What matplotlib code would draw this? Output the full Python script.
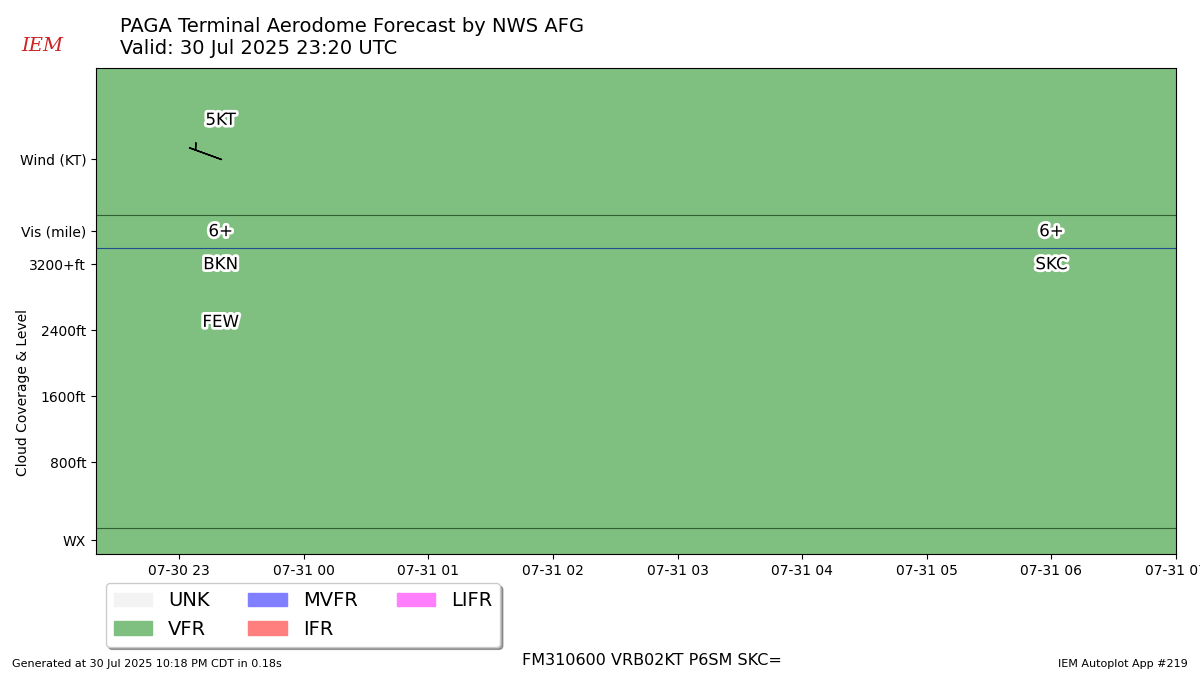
import matplotlib
matplotlib.use('Agg')
import matplotlib.pyplot as plt
import matplotlib.patheffects as pe
from matplotlib.patches import Rectangle
from datetime import datetime
import matplotlib.dates as mdates
import numpy as np

# forecast data
times = [datetime(2025, 7, 30, 23, 20), datetime(2025, 7, 31, 6, 0)]
vis_labels = ["6+", "6+"]
wind_speed = [5]
wind_dir = [290]
cloud_labels = [["BKN", "FEW"], ["SKC"]]
cloud_levels = [[3200, 2500], [3200]]
categories = ["UNK", "VFR", "MVFR", "IFR", "LIFR"]
cat_colors = ["#F3F3F3", "#7FBF7F", "#7F7FFF", "#FF7F7F", "#FF7FFF"]

fig = plt.figure(figsize=(12, 6.75), dpi=100)
ax = fig.add_axes([0.08, 0.179, 0.90, 0.72])

x0 = datetime(2025, 7, 30, 22, 20)
x1 = datetime(2025, 7, 31, 7, 0)
ax.axvspan(x0, x1, color=cat_colors[1], zorder=0)

outline = [pe.withStroke(linewidth=4, foreground='white')]
for t, v in zip(times, vis_labels):
    ax.text(t, 3600, v, ha='center', va='center', fontsize=12, path_effects=outline)
for t, labs, levs in zip(times, cloud_labels, cloud_levels):
    for lab, lev in zip(labs, levs):
        ax.text(t, lev, lab, ha='center', va='center', fontsize=12, path_effects=outline)

d = np.radians(wind_dir[0])
u = -wind_speed[0] * np.sin(d)
v = -wind_speed[0] * np.cos(d)
ax.barbs([mdates.date2num(times[0])], [4470], [u], [v], length=7, zorder=3)
ax.text(times[0], 4950, f"{wind_speed[0]}KT", ha='center', va='center', fontsize=12, path_effects=outline)

for y, c in [(0, '#2f5f2f'), (3400, '#1f4f8f'), (3800, '#2f5f2f')]:
    ax.axhline(y, color=c, lw=0.8)

ax.set_xlim(x0, x1)
ax.set_ylim(-315, 5576)
ax.set_yticks([-145, 800, 1600, 2400, 3200, 3600, 4470])
ax.set_yticklabels(["WX", "800ft", "1600ft", "2400ft", "3200+ft", "Vis (mile)", "Wind (KT)"])
ax.set_ylabel("Cloud Coverage & Level")
ax.yaxis.set_label_coords(-0.061, 0.333)
ax.xaxis.set_major_locator(mdates.HourLocator())
ax.xaxis.set_major_formatter(mdates.DateFormatter("%m-%d %H"))

handles = [Rectangle((0, 0), 1, 1, color=c) for c in cat_colors]
ax.legend(handles, categories, ncol=3, fontsize=14, shadow=True,
          loc='upper left', bbox_to_anchor=(0.0, -0.04))

fig.text(0.1, 0.975, "PAGA Terminal Aerodome Forecast by NWS AFG\nValid: 30 Jul 2025 23:20 UTC",
         fontsize=14, va='top')
fig.text(0.018, 0.925, "IEM", color='#cc2222', fontsize=14, family='serif', style='italic')
fig.text(0.543, 0.015, "FM310600 VRB02KT P6SM SKC=", ha='center', fontsize=11.5)
fig.text(0.01, 0.012, "Generated at 30 Jul 2025 10:18 PM CDT in 0.18s", fontsize=8)
fig.text(0.99, 0.012, "IEM Autoplot App #219", fontsize=8, ha='right')

fig.savefig("out.png")
